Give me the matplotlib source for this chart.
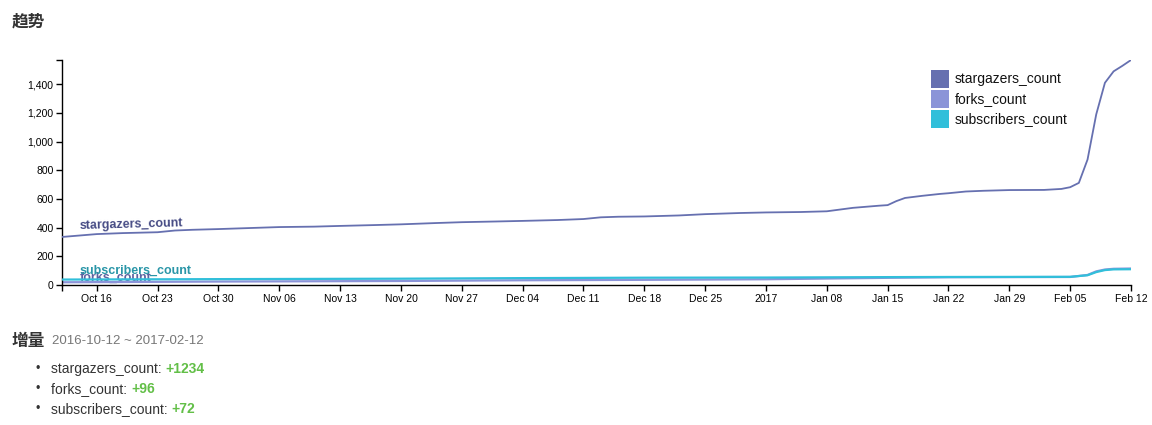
import matplotlib
matplotlib.use("Agg")
import matplotlib.pyplot as plt
import matplotlib.dates as mdates
import pandas as pd
from matplotlib.patches import Rectangle

plt.rcParams['font.family'] = ['Liberation Sans', 'Noto Sans CJK SC', 'DejaVu Sans']

# ---- data ----
star_dates = ["2016-10-12", "2016-10-14", "2016-10-16", "2016-10-19", "2016-10-23", "2016-10-25",
              "2016-10-27", "2016-10-30", "2016-11-03", "2016-11-06", "2016-11-10", "2016-11-13",
              "2016-11-17", "2016-11-20", "2016-11-24", "2016-11-27", "2016-12-01", "2016-12-04",
              "2016-12-08", "2016-12-11", "2016-12-13", "2016-12-15", "2016-12-18", "2016-12-22",
              "2016-12-25", "2016-12-29", "2017-01-01", "2017-01-05", "2017-01-08", "2017-01-11",
              "2017-01-14", "2017-01-15", "2017-01-16", "2017-01-17", "2017-01-19", "2017-01-21",
              "2017-01-22", "2017-01-24", "2017-01-26", "2017-01-29", "2017-02-02", "2017-02-04",
              "2017-02-05", "2017-02-06", "2017-02-07", "2017-02-08", "2017-02-09", "2017-02-10",
              "2017-02-11", "2017-02-12"]
stargazers = [335, 345, 355, 362, 368, 380, 385, 390, 398, 404, 407, 412,
              418, 423, 432, 438, 443, 447, 453, 460, 472, 476, 478, 485,
              494, 502, 506, 509, 514, 538, 553, 557, 585, 607, 622, 635,
              640, 652, 657, 662, 663, 670, 682, 712, 875, 1190, 1410, 1490,
              1528, 1569]

low_dates = ["2016-10-12", "2016-10-30", "2016-11-20", "2016-12-04", "2016-12-18", "2017-01-01",
             "2017-01-15", "2017-01-22", "2017-02-05", "2017-02-07", "2017-02-08", "2017-02-09",
             "2017-02-10", "2017-02-12"]
forks = [19, 24, 28, 33, 36, 40, 50, 54, 56, 70, 95, 108, 113, 115]
subscribers = [38, 41, 44, 48, 51, 52, 55, 56, 57, 68, 90, 104, 109, 110]

series_names = ["stargazers_count", "forks_count", "subscribers_count"]
series_colors = ["#6670b0", "#8b94d8", "#31bfda"]
label_colors = ["#474c85", "#5d62a0", "#2a96a8"]
increments = ["+1234", "+96", "+72"]
date_range = "2016-10-12 ~ 2017-02-12"
y_ticks = [0, 200, 400, 600, 800, 1000, 1200, 1400]

sd = pd.to_datetime(star_dates)
ld = pd.to_datetime(low_dates)

fig = plt.figure(figsize=(11.52, 4.25), dpi=100)
ax = fig.add_axes([62 / 1152, 1 - 285 / 425, (1131 - 62) / 1152, (285 - 60) / 425])

lab_x = mdates.date2num(pd.Timestamp("2016-10-14"))
# labels drawn under the lines
ax.text(lab_x, 8, series_names[1], color=label_colors[1],
        fontsize=9, fontweight="bold", ha="left", va="bottom", zorder=1)
ax.text(lab_x, 57, series_names[2], color=label_colors[2],
        fontsize=9, fontweight="bold", ha="left", va="bottom", zorder=1.5)
ax.text(lab_x, 372, series_names[0], color=label_colors[0],
        fontsize=9, fontweight="bold", rotation=1.5, ha="left", va="bottom", zorder=1)

ax.plot(ld, forks, color=series_colors[1], lw=1.6, zorder=2)
ax.plot(ld, subscribers, color=series_colors[2], lw=1.6, zorder=3)
ax.plot(sd, stargazers, color=series_colors[0], lw=1.3, zorder=4)

x0, x1 = sd[0], sd[-1]
ax.set_xlim(x0, x1)
ax.set_ylim(0, max(stargazers))

for s in ["top", "right"]:
    ax.spines[s].set_visible(False)
for s in ["left", "bottom"]:
    ax.spines[s].set_color("black")
    ax.spines[s].set_linewidth(1.0)

# x ticks: weekly Sundays plus outer end tick
week_ticks = pd.date_range("2016-10-16", "2017-02-12", freq="7D")
xt = [x0] + list(week_ticks)
xl = [""] + [("2017" if (d.month == 1 and d.day == 1) else d.strftime("%b %d")) for d in week_ticks]
ax.set_xticks(mdates.date2num(xt))
ax.set_xticklabels(xl)

ax.set_yticks(y_ticks + [max(stargazers)])
ax.set_yticklabels([f"{v:,}" for v in y_ticks] + [""])

ax.tick_params(axis="both", length=4.5, width=1, color="black", labelsize=7.5)
ax.tick_params(axis="y", pad=1.5)
ax.tick_params(axis="x", pad=2)

# legend
for i, (n, c) in enumerate(zip(series_names, series_colors)):
    ytop = 70 + i * 20
    fig.patches.append(Rectangle((931 / 1152, 1 - (ytop + 18) / 425), 18 / 1152, 18 / 425,
                                 transform=fig.transFigure, facecolor=c, edgecolor="none"))
    fig.text(955 / 1152, 1 - (ytop + 9) / 425, n, fontsize=10, va="center", ha="left", color="#111111")

# titles
fig.text(12 / 1152, 1 - 21 / 425, "趋势", fontsize=12, fontweight="bold", va="center", ha="left",
         color="#333333", family=["Noto Sans CJK SC", "DejaVu Sans"])
fig.text(12 / 1152, 1 - 341 / 425, "增量", fontsize=12, fontweight="bold", va="center", ha="left",
         color="#333333", family=["Noto Sans CJK SC", "DejaVu Sans"])
fig.text(52 / 1152, 1 - 341 / 425, date_range, fontsize=9.5, va="center", ha="left", color="#777777")

for i, (n, inc) in enumerate(zip(series_names, increments)):
    yy = 1 - (369 + i * 20) / 425
    fig.text(36 / 1152, yy, "•", fontsize=9, va="center", ha="left", color="#333333")
    t = fig.text(51 / 1152, yy, n + ": ", fontsize=10, va="center", ha="left", color="#333333")
    fig.canvas.draw()
    bb = t.get_window_extent()
    fig.text(bb.x1 / 1152, yy, inc, fontsize=10, fontweight="bold", va="center", ha="left", color="#62bf47")

fig.savefig("out.png", dpi=100)
